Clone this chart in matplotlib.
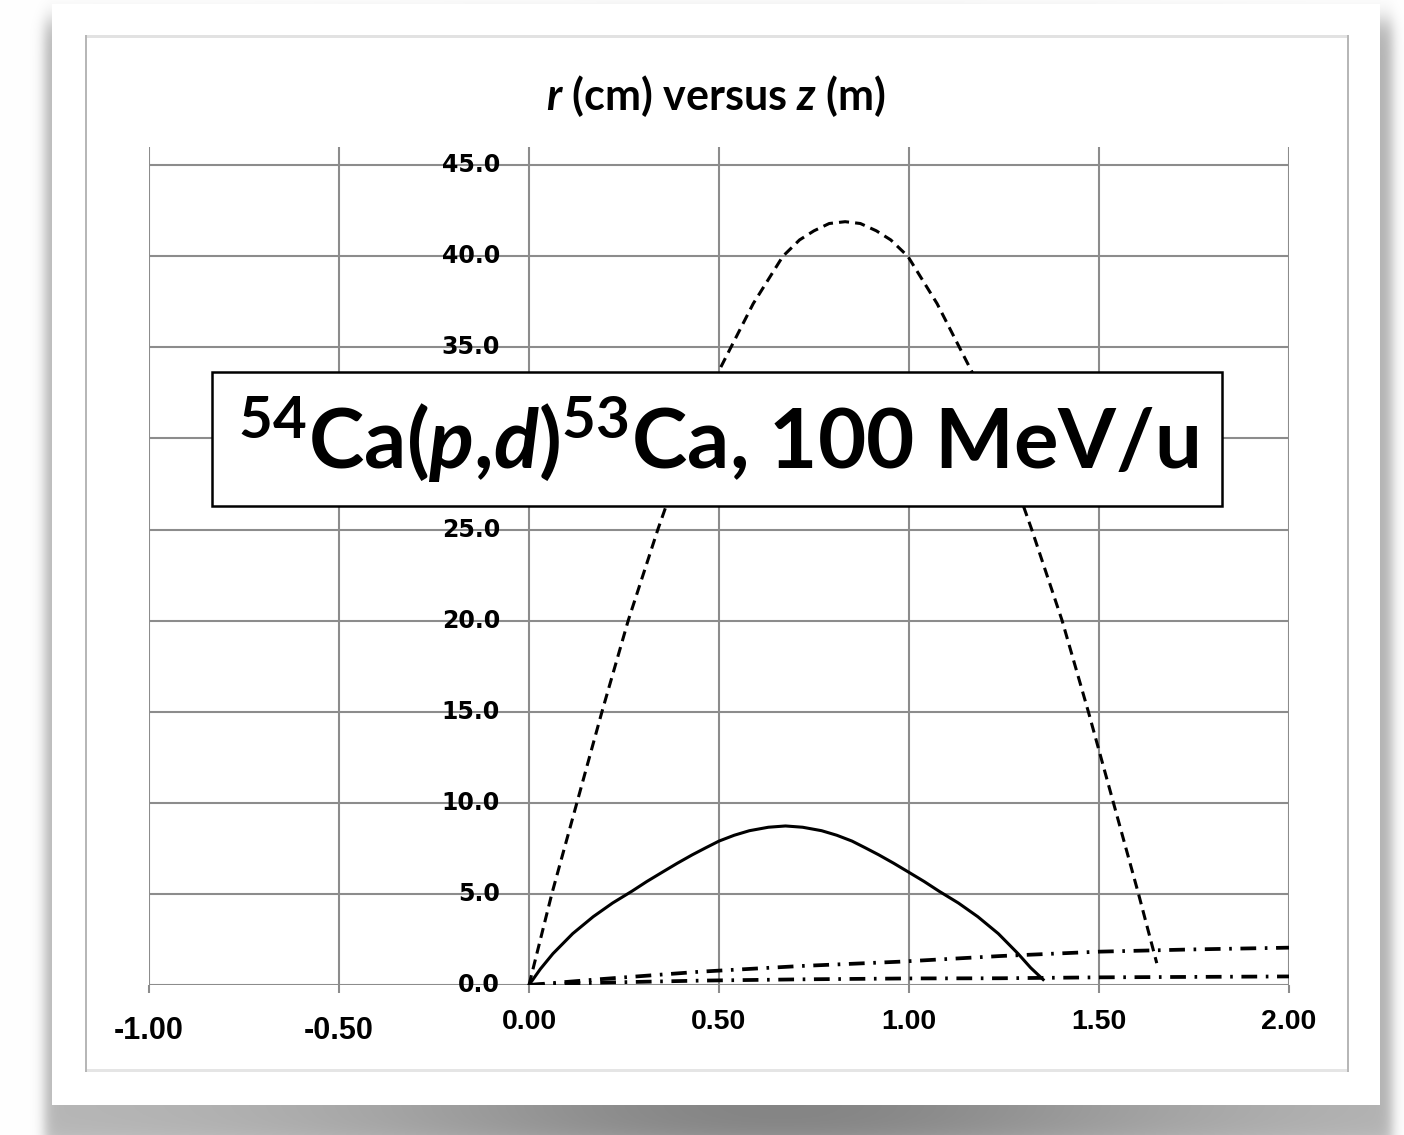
import numpy as np
import matplotlib.pyplot as plt
from matplotlib.patches import Rectangle

W, H = 1404, 1135

### trajectory data, r (cm) versus z (m)
# deuteron, wide orbit (dashed)
z_dash = [0.00, 0.060, 0.126, 0.192, 0.261, 0.339, 0.420, 0.497, 0.590, 0.668, 0.712, 0.750,
          0.790, 0.832, 0.872, 0.914, 0.952, 0.997, 1.074, 1.167, 1.245, 1.323, 1.403, 1.472,
          1.538, 1.604, 1.652]
r_dash = [0.0, 5.0, 10.0, 15.0, 20.0, 25.0, 29.8, 33.6, 37.4, 40.0, 40.9, 41.4,
          41.8, 41.9, 41.8, 41.4, 40.9, 40.0, 37.4, 33.6, 29.6, 25.0, 20.0, 15.0,
          10.0, 5.0, 1.2]

# proton (solid)
z_solid = [0.000, 0.030, 0.063, 0.115, 0.169, 0.220, 0.271, 0.310, 0.353, 0.390, 0.430,
           0.465, 0.500, 0.540, 0.580, 0.630, 0.675, 0.720, 0.770, 0.810, 0.850, 0.885,
           0.920, 0.960, 0.997, 1.040, 1.079, 1.130, 1.181, 1.235, 1.287, 1.320, 1.353]
r_solid = [0.00, 0.88, 1.72, 2.82, 3.75, 4.50, 5.15, 5.68, 6.22, 6.68, 7.15,
           7.53, 7.90, 8.22, 8.47, 8.66, 8.73, 8.66, 8.47, 8.22, 7.90, 7.53,
           7.15, 6.68, 6.22, 5.68, 5.15, 4.50, 3.75, 2.82, 1.72, 0.95, 0.30]

# heavy residues (dash-dot)
z_dd1 = [0.00, 0.187, 0.450, 0.713, 0.976, 1.240, 1.500, 1.740, 2.000]
r_dd1 = [0.00, 0.32, 0.73, 1.04, 1.28, 1.59, 1.83, 1.95, 2.05]
z_dd2 = [0.00, 0.187, 0.450, 0.713, 1.000, 1.240, 1.500, 2.000]
r_dd2 = [0.00, 0.13, 0.24, 0.31, 0.36, 0.37, 0.42, 0.47]

x_ticks = [-1.0, -0.5, 0.0, 0.5, 1.0, 1.5, 2.0]
y_ticks = [0, 5, 10, 15, 20, 25, 30, 35, 40, 45]

plt.rcParams['mathtext.fontset'] = 'custom'
plt.rcParams['mathtext.rm'] = 'Lato:bold'
plt.rcParams['mathtext.it'] = 'Lato:italic:bold'
plt.rcParams['mathtext.bf'] = 'Lato:bold'
plt.rcParams['mathtext.bfit'] = 'Lato:italic:bold'

fig = plt.figure(figsize=(W / 100, H / 100), dpi=100)

### page background with drop shadow
yy, xx = np.mgrid[0:H, 0:W].astype(float)

def ramp(v, a, b, w):
    return 0.5 * (np.tanh((v - a) / w) - np.tanh((v - b) / w))

alpha = ramp(xx, 44, 1392, 7) * ramp(yy, 20, 1150, 14)
alpha *= 0.28 + 0.20 * np.exp(-((xx - 780) / 400) ** 2)
bg = 1 - alpha
card = (xx >= 52) & (xx < 1380) & (yy >= 4) & (yy < 1105)
bg[card] = 1.0
img = np.dstack([bg] * 3)
# inner frame
img[35:38, 85:1349] = 0.89
img[1069:1072, 85:1349] = 0.90
img[35:1072, 85:87] = 0.72
img[35:1072, 1347:1349] = 0.72

bg_ax = fig.add_axes([0, 0, 1, 1], zorder=-5)
bg_ax.imshow(img, interpolation='nearest', aspect='auto')
bg_ax.axis('off')

### main plot
grid_c = '#8c8c8c'
ax = fig.add_axes([149 / W, 1 - 985 / H, 1140 / W, 838 / H])
ax.patch.set_alpha(0)
ax.set_xlim(-1, 2)
ax.set_ylim(0, 46)
for s in ax.spines.values():
    s.set_visible(False)
ax.set_xticks(x_ticks)
ax.set_yticks(y_ticks)
ax.set_xticklabels([])
ax.set_yticklabels([])
ax.tick_params(axis='x', length=5.8, width=1.5, color=grid_c, direction='out')
ax.tick_params(axis='y', length=0)
ax.grid(True, color=grid_c, lw=1.5)
ax.set_axisbelow(True)

for v in y_ticks:
    if v == 30:
        continue  # sits under the reaction label box
    ax.text(-0.076, v, f'{v:.1f}', ha='right', va='center', fontsize=17,
            fontweight='bold', family='DejaVu Sans', zorder=3)
for v in x_ticks:
    if v < 0:
        ax.text(v, -0.0549, f'{v:.2f}', transform=ax.get_xaxis_transform(),
                ha='center', va='center', fontsize=22, fontweight='bold',
                family='Liberation Sans')
    else:
        ax.text(v, -0.0442, f'{v:.2f}', transform=ax.get_xaxis_transform(),
                ha='center', va='center', fontsize=20.5, fontweight='bold',
                family='Liberation Sans')

ax.plot(z_dash, r_dash, color='black', lw=2.2, ls=(0, (3.3, 2)), zorder=4)
ax.plot(z_solid, r_solid, color='black', lw=2.2, zorder=4)
ax.plot(z_dd1, r_dd1, color='black', lw=2.7, ls=(0, (4.2, 2.3, 0.7, 2.3)), zorder=4)
ax.plot(z_dd2, r_dd2, color='black', lw=2.7, ls=(0, (4.2, 2.3, 0.7, 2.3)), zorder=4)

fig.text(716 / W, 1 - 96 / H, r'$\mathbfit{r}$ (cm) versus $\mathbfit{z}$ (m)',
         ha='center', va='center', fontsize=31, fontweight='bold', family='Lato')

### reaction label
box = Rectangle((212 / W, 1 - 506 / H), 1010 / W, 134 / H, transform=fig.transFigure,
                fc='white', ec='black', lw=1.8, zorder=10)
fig.add_artist(box)
fig.text(718 / W, 1 - 440 / H, r'$^{54}$Ca($p$,$d$)$^{53}$Ca, 100 MeV/u',
         ha='center', va='center', fontsize=60, fontweight='bold', family='Lato',
         zorder=11)

fig.savefig('out.png', dpi=100)
